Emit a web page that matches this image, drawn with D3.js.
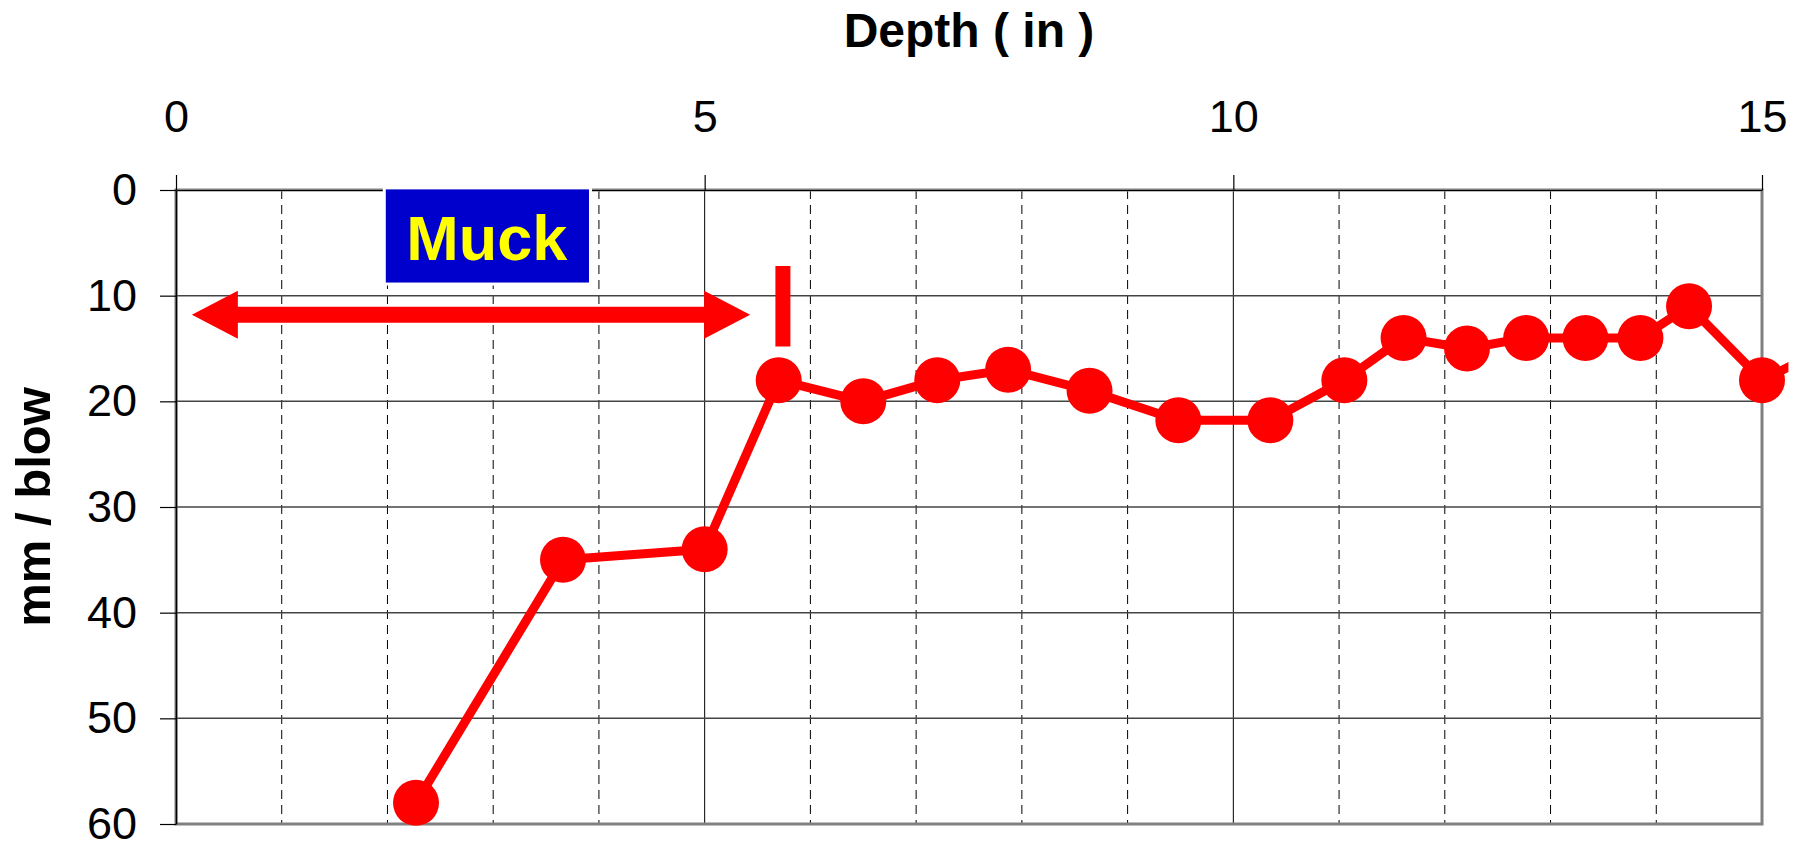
<!DOCTYPE html>
<html>
<head>
<meta charset="utf-8">
<script src="https://cdn.jsdelivr.net/npm/d3@7"></script>
<style>
  body { margin: 0; background: #fff; }
  svg { display: block; font-family: "Liberation Sans", Arial, sans-serif; }
</style>
</head>
<body>
<svg id="chart" width="1810" height="843"></svg>
<script>
// data
const depth = [2.27, 3.66, 5.0, 5.70, 6.50, 7.20, 7.87, 8.64, 9.48, 10.35, 11.05, 11.61, 12.21, 12.77, 13.33, 13.85, 14.31, 15.0, 16.0]
const mmPerBlow = [58, 35, 34, 18, 20, 18, 17, 19, 21.8, 21.8, 18, 14, 15, 14, 14, 14, 11, 18, 13]
const xTicks = [0, 5, 10, 15]
const xMinor = [1, 2, 3, 4, 6, 7, 8, 9, 11, 12, 13, 14]
const yTicks = [0, 10, 20, 30, 40, 50, 60]

const width = 1810, height = 843
const margin = { left: 176, right: 48, top: 190, bottom: 19 }
const svg = d3.select('#chart')

const x = d3.scaleLinear().domain([0, 15]).range([margin.left, width - margin.right])
const y = d3.scaleLinear().domain([0, 60]).range([margin.top, height - margin.bottom])

//gridlines
const grid = svg.append('g')
grid.selectAll('.minor')
    .data(xMinor)
    .join('line')
    .attr('x1', d => x(d)).attr('x2', d => x(d))
    .attr('y1', y(0)).attr('y2', y(60))
    .attr('stroke', '#000').attr('stroke-width', 1)
    .attr('stroke-dasharray', '9,6')
grid.selectAll('.vmajor')
    .data([5, 10])
    .join('line')
    .attr('x1', d => x(d)).attr('x2', d => x(d))
    .attr('y1', y(0)).attr('y2', y(60))
    .attr('stroke', '#000').attr('stroke-width', 1)
grid.selectAll('.hmajor')
    .data(yTicks.slice(1, -1))
    .join('line')
    .attr('x1', x(0)).attr('x2', x(15))
    .attr('y1', d => y(d)).attr('y2', d => y(d))
    .attr('stroke', '#444').attr('stroke-width', 1.5)

// plot frame
svg.append('rect')
    .attr('x', x(0)).attr('y', y(0))
    .attr('width', x(15) - x(0)).attr('height', y(60) - y(0))
    .attr('fill', 'none').attr('stroke', '#808080').attr('stroke-width', 3)

// axes
const xAxis = svg.append('g')
    .attr('transform', `translate(0,${y(0)})`)
    .call(d3.axisTop(x).tickValues(xTicks).tickSize(15).tickSizeOuter(0).tickPadding(43))
const yAxis = svg.append('g')
    .attr('transform', `translate(${x(0)},0)`)
    .call(d3.axisLeft(y).tickValues(yTicks).tickSize(16).tickSizeOuter(0).tickPadding(23))
xAxis.select('.domain').attr('stroke', '#000').attr('stroke-width', 1)
yAxis.select('.domain').attr('stroke', '#000').attr('stroke-width', 1.5)
svg.selectAll('.tick line').attr('stroke', '#000').attr('stroke-width', 1.2)
svg.selectAll('.tick text')
    .attr('font-size', 45).attr('fill', '#000')
    .attr('font-family', '"Liberation Sans", Arial, sans-serif')
xAxis.selectAll('.tick text').attr('dy', '0em')

// axis titles
svg.append('text')
    .attr('x', (x(0) + x(15)) / 2).attr('y', 47)
    .attr('text-anchor', 'middle')
    .attr('font-size', 48).attr('font-weight', 'bold')
    .text('Depth ( in )')
svg.append('text')
    .attr('transform', `translate(50,${(y(0) + y(60)) / 2}) rotate(-90)`)
    .attr('text-anchor', 'middle')
    .attr('font-size', 49).attr('font-weight', 'bold')
    .text('mm / blow')

// annotations
const muck = { x0: 1.97, x1: 3.92, y0: -0.2, y1: 8.9, tx: 2.94, ty: 6.6 }
svg.append('rect')
    .attr('x', x(muck.x0)).attr('y', y(muck.y0))
    .attr('width', x(muck.x1) - x(muck.x0)).attr('height', y(muck.y1) - y(muck.y0))
    .attr('fill', '#0000CC').attr('stroke', '#fff').attr('stroke-width', 3)
svg.append('text')
    .attr('x', x(muck.tx)).attr('y', y(muck.ty))
    .attr('text-anchor', 'middle')
    .attr('font-size', 63).attr('font-weight', 'bold').attr('fill', '#FFFF00')
    .text('Muck')

// double arrow from 0.15 to 5.43 in
const arr = { left: 0.15, right: 5.43, at: 11.8 }
const ax1 = x(arr.left), ax2 = x(arr.right), ay = y(arr.at)
const head = 46, halfHead = 24, halfShaft = 8
svg.append('path')
    .attr('d', d3.line()([
        [ax1, ay], [ax1 + head, ay - halfHead], [ax1 + head, ay - halfShaft],
        [ax2 - head, ay - halfShaft], [ax2 - head, ay - halfHead], [ax2, ay],
        [ax2 - head, ay + halfHead], [ax2 - head, ay + halfShaft],
        [ax1 + head, ay + halfShaft], [ax1 + head, ay + halfHead]
    ]) + 'Z')
    .attr('fill', '#FF0000')

// boundary marker
svg.append('line')
    .attr('x1', x(5.74)).attr('x2', x(5.74))
    .attr('y1', y(7.2)).attr('y2', y(14.8))
    .attr('stroke', '#FF0000').attr('stroke-width', 15)

// series
const points = depth.map((d, i) => [d, mmPerBlow[i]])
svg.append('clipPath').attr('id', 'clip')
    .append('rect').attr('x', 0).attr('y', 0).attr('width', x(15.25)).attr('height', height)
const series = svg.append('g').attr('clip-path', 'url(#clip)')
series.append('path')
    .attr('d', d3.line().x(d => x(d[0])).y(d => y(d[1]))(points))
    .attr('fill', 'none').attr('stroke', '#FF0000')
    .attr('stroke-width', 9).attr('stroke-linejoin', 'round')
series.selectAll('.pt')
    .data(points.filter(d => d[0] <= 15))
    .join('circle')
    .attr('class', 'pt')
    .attr('cx', d => x(d[0])).attr('cy', d => y(d[1]))
    .attr('r', 23)
    .attr('fill', '#FF0000')
</script>
</body>
</html>
